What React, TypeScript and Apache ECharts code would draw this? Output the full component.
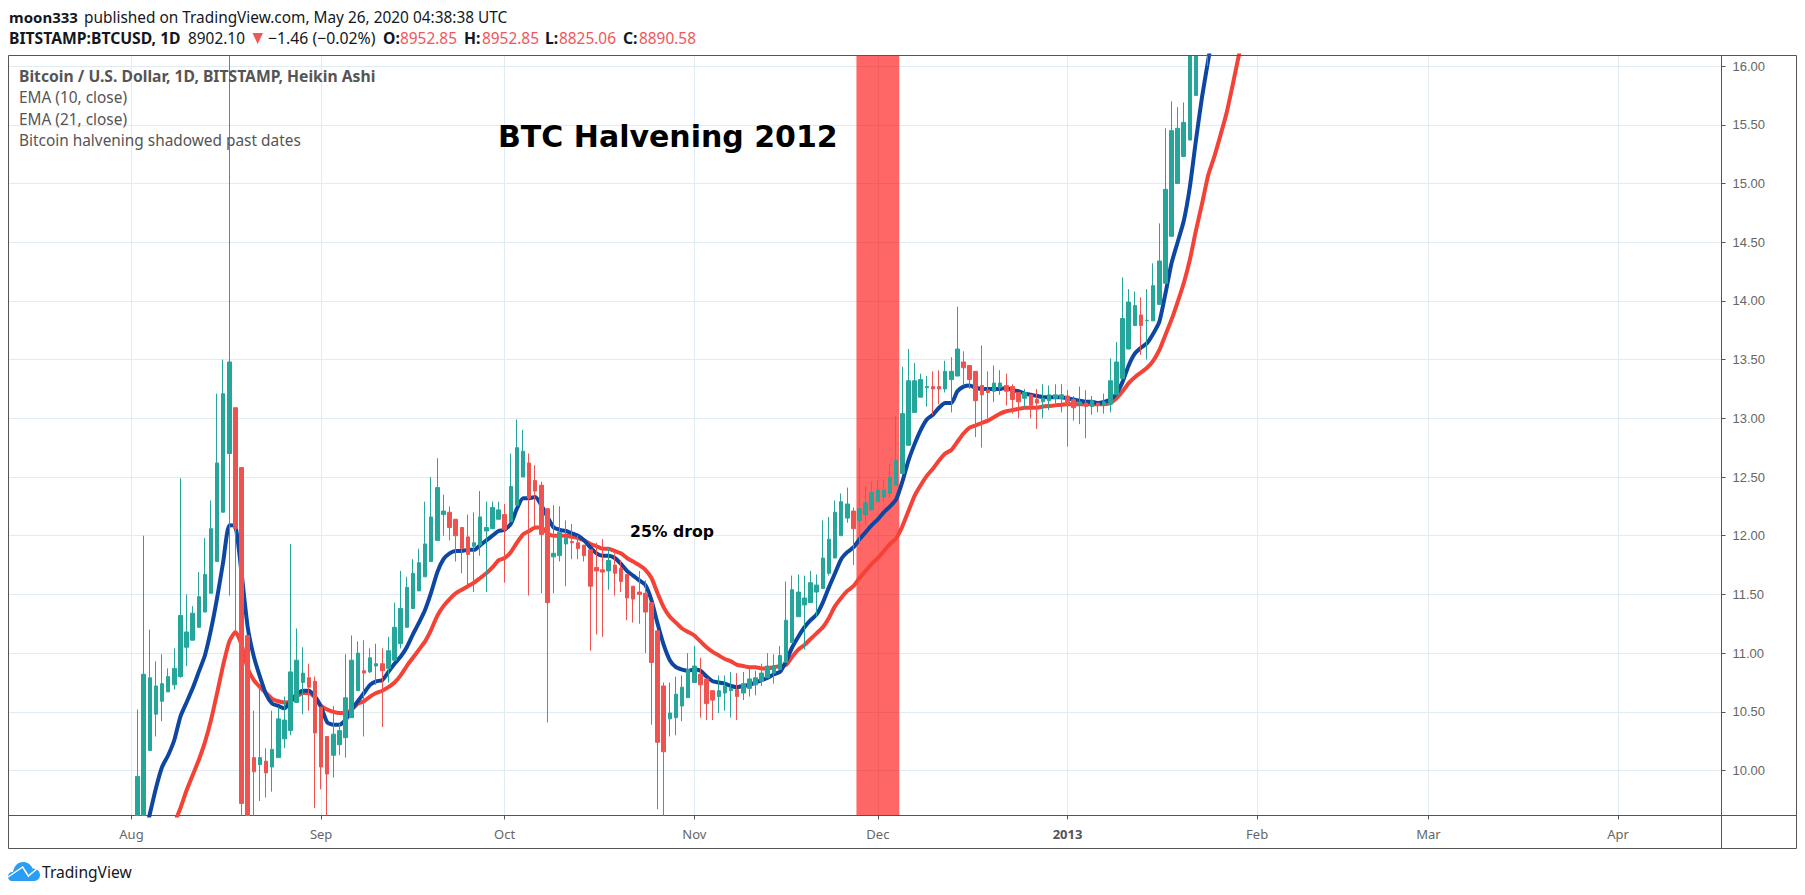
import React, { useEffect, useRef } from "react";
import * as echarts from "echarts";

// Days are counted from 1 Aug 2012 (day 0).
const monthTicks = [0, 31, 61, 92, 122, 153, 184, 212, 243];
const monthLabels = ["Aug", "Sep", "Oct", "Nov", "Dec", "2013", "Feb", "Mar", "Apr"];
const priceTicks = [10, 10.5, 11, 11.5, 12, 12.5, 13, 13.5, 14, 14.5, 15, 15.5, 16];
const priceMin = 9.617;
const priceMax = 16.09;

const firstCandleDay = 1;
// Heikin Ashi candles: [open, close, low, high]
const candlesAug = [
  [9.4, 9.95, 9.2, 10.52], [9.5, 10.82, 9.4, 12.0], [10.17, 10.79, 10.17, 11.2], [10.48, 10.72, 10.29, 10.93],
  [10.59, 10.74, 10.42, 10.99], [10.67, 10.8, 10.67, 10.87], [10.73, 10.87, 10.69, 11.04], [10.8, 11.32, 10.79, 12.49],
  [11.05, 11.18, 10.89, 11.5], [11.11, 11.34, 11.11, 11.4], [11.22, 11.48, 11.22, 11.69], [11.35, 11.67, 11.35, 11.98],
  [11.51, 12.06, 11.51, 12.3], [11.78, 12.62, 11.78, 13.21], [12.2, 13.21, 12.2, 13.5], [12.7, 13.48, 11.49, 16.6],
  [13.09, 12.06, 11.18, 13.09], [12.58, 9.72, 9.3, 12.58], [11.15, 9.4, 9.3, 11.15], [10.11, 9.99, 9.5, 10.51],
  [10.05, 10.11, 9.74, 10.71], [10.08, 9.98, 9.77, 10.19], [10.03, 10.18, 9.82, 10.51], [10.11, 10.44, 10.11, 10.54],
  [10.27, 10.43, 10.19, 10.63], [10.34, 10.84, 10.3, 11.93], [10.58, 10.94, 10.58, 11.21], [10.75, 10.83, 10.48, 11.05],
  [10.79, 10.71, 10.51, 10.91], [10.76, 10.32, 9.68, 10.8],
];
const candlesSep = [
  [10.54, 10.03, 9.84, 10.54], [10.29, 9.97, 9.55, 10.29], [10.13, 10.31, 9.94, 10.55], [10.22, 10.34, 10.13, 10.4],
  [10.28, 10.62, 10.11, 10.99], [10.45, 10.94, 10.45, 11.15], [10.68, 11.0, 10.68, 11.1], [10.85, 10.83, 10.29, 11.11],
  [10.84, 10.96, 10.83, 11.04], [10.89, 10.91, 10.73, 11.08], [10.91, 10.85, 10.37, 11.04], [10.87, 11.02, 10.75, 11.14],
  [10.94, 11.22, 10.94, 11.43], [11.08, 11.38, 11.04, 11.7], [11.22, 11.56, 11.22, 11.65], [11.38, 11.68, 11.38, 11.8],
  [11.53, 11.77, 11.53, 11.89], [11.65, 11.93, 11.65, 12.29], [11.78, 12.16, 11.78, 12.5], [11.96, 12.41, 11.96, 12.66],
  [12.18, 12.21, 12.0, 12.35], [12.2, 12.07, 11.96, 12.25], [12.14, 12.0, 11.78, 12.14], [12.07, 11.89, 11.68, 12.07],
  [11.99, 11.84, 11.58, 12.18], [11.91, 11.94, 11.52, 12.2], [11.92, 12.16, 11.83, 12.38], [12.04, 12.07, 11.52, 12.29],
  [12.06, 12.24, 12.06, 12.29], [12.14, 12.22, 12.14, 12.29],
];
const candlesOct = [
  [12.18, 12.05, 11.6, 12.27], [12.12, 12.42, 12.12, 12.7], [12.26, 12.75, 12.26, 12.99], [12.5, 12.72, 12.5, 12.9],
  [12.62, 12.32, 11.49, 12.7], [12.47, 12.38, 12.08, 12.6], [12.43, 12.01, 11.51, 12.46], [12.23, 11.43, 10.41, 12.23],
  [11.82, 11.85, 11.51, 12.26], [11.83, 12.03, 11.78, 12.25], [11.93, 11.98, 11.57, 12.13], [11.95, 11.94, 11.8, 12.1],
  [11.94, 11.89, 11.8, 12.0], [11.92, 11.83, 11.78, 11.92], [11.88, 11.57, 11.02, 11.88], [11.73, 11.7, 11.16, 11.94],
  [11.71, 11.69, 11.14, 11.97], [11.7, 11.79, 11.54, 11.9], [11.75, 11.68, 11.49, 11.85], [11.72, 11.61, 11.52, 11.79],
  [11.67, 11.47, 11.28, 11.67], [11.57, 11.46, 11.26, 11.57], [11.52, 11.5, 11.25, 11.7], [11.51, 11.35, 11.0, 11.62],
  [11.43, 10.92, 10.39, 11.43], [11.19, 10.24, 9.67, 11.19], [10.72, 10.16, 9.55, 10.75], [10.44, 10.49, 10.29, 10.75],
  [10.45, 10.65, 10.3, 10.8], [10.55, 10.71, 10.42, 10.81], [10.62, 10.86, 10.62, 11.0],
];
const candlesNov = [
  [10.75, 10.89, 10.75, 11.06], [10.82, 10.73, 10.45, 10.96], [10.78, 10.57, 10.43, 10.78], [10.68, 10.6, 10.43, 10.68],
  [10.63, 10.68, 10.49, 10.81], [10.66, 10.72, 10.51, 10.81], [10.68, 10.7, 10.45, 10.84], [10.69, 10.63, 10.43, 10.83],
  [10.66, 10.74, 10.6, 10.84], [10.7, 10.78, 10.63, 10.87], [10.73, 10.79, 10.64, 10.85], [10.76, 10.83, 10.72, 10.91],
  [10.79, 10.89, 10.79, 11.0], [10.83, 10.89, 10.74, 10.99], [10.86, 10.98, 10.86, 11.06], [10.92, 11.28, 10.92, 11.61],
  [11.09, 11.54, 11.09, 11.66], [11.31, 11.52, 11.31, 11.67], [11.41, 11.47, 11.03, 11.66], [11.43, 11.6, 11.43, 11.7],
  [11.52, 11.58, 11.31, 11.67], [11.55, 11.81, 11.55, 12.13], [11.68, 11.97, 11.66, 12.16], [11.81, 12.2, 11.81, 12.3],
  [12.0, 12.29, 12.0, 12.36], [12.15, 12.27, 12.11, 12.41], [12.21, 12.06, 11.75, 12.24], [12.13, 12.23, 11.93, 12.75],
  [12.18, 12.28, 12.1, 12.42], [12.22, 12.37, 12.22, 12.46],
];
const candlesDec = [
  [12.29, 12.39, 12.29, 12.47], [12.33, 12.39, 12.29, 12.48], [12.36, 12.5, 12.32, 12.61], [12.43, 12.64, 12.43, 13.02],
  [12.53, 13.04, 12.53, 13.44], [12.77, 13.32, 12.77, 13.59], [13.05, 13.32, 13.05, 13.47], [13.18, 13.33, 13.18, 13.38],
  [13.26, 13.27, 13.1, 13.36], [13.27, 13.25, 13.03, 13.4], [13.27, 13.25, 13.12, 13.41], [13.25, 13.4, 13.22, 13.49],
  [13.33, 13.4, 13.05, 13.52], [13.36, 13.59, 13.36, 13.95], [13.48, 13.43, 13.28, 13.57], [13.45, 13.33, 13.25, 13.45],
  [13.4, 13.15, 12.84, 13.4], [13.28, 13.2, 12.75, 13.62], [13.24, 13.22, 13.0, 13.4], [13.23, 13.3, 13.14, 13.45],
  [13.26, 13.3, 13.2, 13.41], [13.28, 13.23, 13.11, 13.38], [13.27, 13.16, 13.04, 13.29], [13.22, 13.14, 13.0, 13.22],
  [13.17, 13.22, 13.09, 13.25], [13.2, 13.11, 13.0, 13.2], [13.16, 13.13, 12.91, 13.25], [13.14, 13.17, 13.0, 13.29],
  [13.15, 13.2, 13.07, 13.28], [13.17, 13.2, 13.1, 13.29], [13.17, 13.2, 13.05, 13.29],
];
const candlesJan = [
  [13.19, 13.12, 12.76, 13.24], [13.16, 13.09, 12.98, 13.19], [13.12, 13.14, 12.95, 13.27], [13.13, 13.1, 12.83, 13.24],
  [13.1, 13.15, 13.03, 13.19], [13.13, 13.11, 13.05, 13.13], [13.11, 13.14, 13.04, 13.21], [13.12, 13.32, 13.05, 13.51],
  [13.2, 13.48, 13.2, 13.65], [13.34, 13.85, 13.34, 14.2], [13.59, 13.99, 13.59, 14.1], [13.79, 13.96, 13.79, 14.08],
  [13.88, 13.79, 13.54, 14.03], [13.83, 13.835, 13.5, 14.1], [13.83, 14.13, 13.83, 14.32], [13.97, 14.34, 13.97, 14.66],
  [14.15, 14.95, 14.15, 15.47], [14.55, 15.45, 14.55, 15.7], [15.0, 15.47, 15.0, 15.65], [15.23, 15.52, 15.23, 15.69],
  [15.37, 16.5, 15.37, 16.8], [15.75, 16.6, 15.75, 17.0], [16.5, 17.0, 16.2, 17.2], [16.8, 17.2, 16.0, 17.4],
];

const ema10FirstDay = 2;
const ema10Values = [
  9.4, 9.63, 9.85, 10.03, 10.13, 10.26, 10.46, 10.58, 10.7, 10.84, 10.98, 11.2, 11.47, 11.78, 12.09, 12.08, 11.68, 11.22,
  10.97, 10.8, 10.65, 10.57, 10.55, 10.53, 10.59, 10.65, 10.68, 10.68, 10.63,
  10.54, 10.41, 10.39, 10.39, 10.43, 10.52, 10.59, 10.66, 10.73, 10.76, 10.77, 10.84, 10.91, 10.97, 11.05, 11.16, 11.26,
  11.37, 11.52, 11.69, 11.8, 11.85, 11.87, 11.87, 11.88, 11.88, 11.92, 11.96, 12.0, 12.04,
  12.05, 12.1, 12.23, 12.32, 12.32, 12.33, 12.26, 12.16, 12.07, 12.05, 12.04, 12.02, 12.0, 11.96, 11.9, 11.85, 11.83,
  11.83, 11.81, 11.76, 11.7, 11.66, 11.62, 11.58, 11.45, 11.25, 11.07, 10.94, 10.88, 10.86, 10.85,
  10.86, 10.85, 10.8, 10.76, 10.75, 10.74, 10.72, 10.71, 10.72, 10.73, 10.75, 10.77, 10.79, 10.82, 10.84, 10.93, 11.05,
  11.14, 11.22, 11.28, 11.33, 11.43, 11.56, 11.68, 11.8, 11.86, 11.9, 11.97, 12.03, 12.09,
  12.14, 12.2, 12.25, 12.31, 12.46, 12.64, 12.78, 12.9, 12.99, 13.03, 13.09, 13.13, 13.13, 13.23, 13.27, 13.28, 13.26,
  13.25, 13.25, 13.25, 13.25, 13.26, 13.24, 13.23, 13.21, 13.2, 13.19, 13.18, 13.18, 13.18, 13.18,
  13.17, 13.16, 13.15, 13.14, 13.14, 13.13, 13.14, 13.16, 13.21, 13.31, 13.45, 13.55, 13.6, 13.64, 13.72, 13.82, 14.06,
  14.32, 14.5, 14.68, 14.97, 15.37, 15.74, 16.05, 16.35,
];
const ema21FirstDay = 7;
const ema21Values = [
  9.55, 9.68, 9.83, 9.96, 10.09, 10.24, 10.43, 10.66, 10.9, 11.1, 11.18, 11.07, 10.87, 10.77, 10.71, 10.66, 10.61, 10.59,
  10.58, 10.59, 10.63, 10.66, 10.66, 10.62,
  10.55, 10.52, 10.5, 10.49, 10.49, 10.52, 10.57, 10.59, 10.63, 10.66, 10.68, 10.71, 10.75, 10.81, 10.89, 10.96, 11.03,
  11.1, 11.2, 11.32, 11.4, 11.46, 11.51, 11.54, 11.57, 11.6, 11.64, 11.68, 11.73, 11.79,
  11.81, 11.86, 11.94, 12.01, 12.04, 12.07, 12.07, 12.02, 12.0, 12.0, 12.0, 11.99, 11.98, 11.96, 11.93, 11.91, 11.89,
  11.89, 11.87, 11.85, 11.81, 11.78, 11.75, 11.71, 11.64, 11.51, 11.39, 11.31, 11.26, 11.21, 11.18,
  11.15, 11.1, 11.05, 11.01, 10.98, 10.95, 10.93, 10.9, 10.89, 10.88, 10.88, 10.87, 10.87, 10.88, 10.89, 10.9, 10.97,
  11.03, 11.07, 11.12, 11.17, 11.22, 11.3, 11.4, 11.47, 11.53, 11.57, 11.64, 11.7, 11.76,
  11.81, 11.87, 11.93, 11.98, 12.08, 12.21, 12.34, 12.43, 12.51, 12.57, 12.64, 12.7, 12.73, 12.8, 12.87, 12.92, 12.94,
  12.96, 12.98, 13.01, 13.04, 13.06, 13.07, 13.08, 13.09, 13.09, 13.09, 13.1, 13.105, 13.11, 13.116,
  13.12, 13.12, 13.12, 13.12, 13.12, 13.12, 13.12, 13.13, 13.17, 13.23, 13.3, 13.35, 13.39, 13.43, 13.49, 13.58, 13.71,
  13.84, 13.99, 14.15, 14.35, 14.6, 14.83, 15.07, 15.23, 15.41, 15.6, 15.84, 16.09, 16.35,
];

const halvingBand = [118.5, 125.5];

const legendLines = [
  "EMA (10, close)",
  "EMA (21, close)",
  "Bitcoin halvening shadowed past dates",
];

const CLOUD =
  "M4 19C1.5 19 0 17 0 14.5C0 11.5 2.5 9.5 5 10C6 4 10 0 15 0C19.5 0 23 2.5 24.5 6.5C28.5 6 32 9 32 13C32 16.5 29.5 19 26 19Z";
echarts.graphic.registerShape("tvCloud", echarts.graphic.extendPath(CLOUD as any, {}) as any);

const UI_FONT = '"Noto Sans", sans-serif';
const AXIS_COLOR = "#555555";
const GRID_COLOR = "#e1ecf2";
const REG = 15.4;
const BOLD = 15.7;

function txt(x: number, y: number, text: string, size: number, fill: string, weight: string = "normal", family = UI_FONT) {
  return {
    type: "text",
    x,
    y,
    silent: true,
    z: 20,
    style: { text, fill, fontSize: size, fontWeight: weight, fontFamily: family, verticalAlign: "middle" },
  };
}

const clampPrice = (v: number) => Math.min(priceMax, Math.max(priceMin, v));

export default function App() {
  const ref = useRef<HTMLDivElement>(null);
  useEffect(() => {
    document.body.style.margin = "0";
    const chart = echarts.init(ref.current!, undefined, { renderer: "svg" });
    const rows = [...candlesAug, ...candlesSep, ...candlesOct, ...candlesNov, ...candlesDec, ...candlesJan];
    // The candlestick series does not clip at the plot edge, so parts beyond the frame are held at the axis limits.
    const candleData = rows.map((r, i) => [firstCandleDay + i, ...r.map(clampPrice)]);
    const ema10 = ema10Values.map((v, i) => [ema10FirstDay + i, v]);
    const ema21 = ema21Values.map((v, i) => [ema21FirstDay + i, v]);
    const RED = "#f0565a";
    chart.setOption({
      animation: false,
      backgroundColor: "#ffffff",
      grid: { left: 8.5, top: 55.5, width: 1713, height: 760, containLabel: false },
      xAxis: {
        type: "value",
        min: -20.1,
        max: 259.9,
        axisLine: { show: true, lineStyle: { color: AXIS_COLOR, width: 1 } },
        axisTick: { show: true, length: 4, customValues: monthTicks, lineStyle: { color: AXIS_COLOR } },
        axisLabel: {
          customValues: monthTicks,
          margin: 12,
          color: "#666666",
          fontSize: 13,
          fontFamily: UI_FONT,
          formatter: (v: number) => {
            const s = monthLabels[monthTicks.indexOf(v)];
            return s === "2013" ? "{b|2013}" : s;
          },
          rich: { b: { fontWeight: "bold", fontSize: 13, color: "#555555", fontFamily: UI_FONT } },
        },
        splitLine: { show: true, lineStyle: { color: GRID_COLOR, width: 1 } },
      },
      yAxis: {
        type: "value",
        position: "right",
        min: priceMin,
        max: priceMax,
        scale: true,
        axisLine: { show: true, onZero: false, lineStyle: { color: AXIS_COLOR, width: 1 } },
        axisTick: { show: true, length: 4, customValues: priceTicks, lineStyle: { color: AXIS_COLOR } },
        axisLabel: {
          customValues: priceTicks,
          margin: 11,
          color: "#666666",
          fontSize: 13,
          fontFamily: '"Liberation Sans", Arial, sans-serif',
          formatter: (v: number) => v.toFixed(2),
        },
        splitLine: { show: true, lineStyle: { color: GRID_COLOR, width: 1 } },
      },
      series: [
        {
          name: "EMA (21, close)",
          type: "line",
          data: ema21,
          z: 3,
          symbol: "none",
          smooth: 0.2,
          lineStyle: { color: "#f44336", width: 4, join: "round" },
          itemStyle: { color: "#f44336" },
          markArea: {
            silent: true,
            z: 1,
            itemStyle: { color: "rgba(255,0,0,0.6)", borderWidth: 0 },
            data: [[{ xAxis: halvingBand[0] }, { xAxis: halvingBand[1] }]],
          },
        },
        {
          name: "EMA (10, close)",
          type: "line",
          data: ema10,
          z: 3,
          symbol: "none",
          smooth: 0.2,
          lineStyle: { color: "#0d47a1", width: 4, join: "round" },
          itemStyle: { color: "#0d47a1" },
        },
        {
          name: "BITSTAMP:BTCUSD",
          type: "candlestick",
          data: candleData,
          z: 4,
          barWidth: 4,
          itemStyle: {
            color: "#26a69a",
            color0: "#ef5350",
            borderColor: "#26a69a",
            borderColor0: "#ef5350",
            borderWidth: 1,
          },
        },
      ],
      graphic: [
        { type: "rect", silent: true, z: 15, shape: { x: 8.5, y: 55.5, width: 1788, height: 793 }, style: { fill: "none", stroke: AXIS_COLOR, lineWidth: 1 } },
        { type: "line", silent: true, z: 15, shape: { x1: 1721.5, y1: 815.5, x2: 1796.5, y2: 815.5 }, style: { stroke: AXIS_COLOR, lineWidth: 1 } },
        { type: "line", silent: true, z: 15, shape: { x1: 1721.5, y1: 815.5, x2: 1721.5, y2: 848.5 }, style: { stroke: AXIS_COLOR, lineWidth: 1 } },
        txt(9, 17, "moon333", 15, "#131722", "bold"),
        txt(84, 17, "published on TradingView.com, May 26, 2020 04:38:38 UTC", REG, "#131722"),
        txt(9, 38, "BITSTAMP:BTCUSD, 1D", BOLD, "#131722", "bold"),
        txt(188, 38, "8902.10", REG, "#131722"),
        { type: "polygon", silent: true, z: 20, shape: { points: [[252.5, 33], [263, 33], [257.7, 44]] }, style: { fill: RED } },
        txt(268, 38, "\u22121.46 (\u22120.02%)", 15.8, "#131722"),
        txt(383, 38, "O:", BOLD, "#131722", "bold"),
        txt(400, 38, "8952.85", REG, RED),
        txt(464, 38, "H:", BOLD, "#131722", "bold"),
        txt(482, 38, "8952.85", REG, RED),
        txt(545, 38, "L:", BOLD, "#131722", "bold"),
        txt(559, 38, "8825.06", REG, RED),
        txt(623, 38, "C:", BOLD, "#131722", "bold"),
        txt(639, 38, "8890.58", REG, RED),
        txt(19, 76, "Bitcoin / U.S. Dollar, 1D, BITSTAMP, Heikin Ashi", BOLD, "#555555", "bold"),
        txt(19, 97, legendLines[0], REG, "#555555"),
        txt(19, 119, legendLines[1], REG, "#555555"),
        txt(19, 140, legendLines[2], REG, "#555555"),
        txt(498, 136, "BTC Halvening 2012", 30, "#000000", "bold", '"DejaVu Sans", sans-serif'),
        txt(630, 531, "25% drop", 15.7, "#000000", "bold", '"DejaVu Sans", sans-serif'),
        { type: "tvCloud", silent: true, z: 20, x: 8, y: 862, scaleX: 1, scaleY: 1, style: { fill: "#2a9df4" } },
        { type: "polyline", silent: true, z: 21, shape: { points: [[8, 877], [22.7, 867], [28.3, 876], [36.7, 869]] }, style: { stroke: "#ffffff", lineWidth: 1.5, fill: "none" } },
        txt(42, 872, "TradingView", 15.6, "#131722"),
      ],
    } as any);
    return () => chart.dispose();
  }, []);
  return <div ref={ref} style={{ position: "absolute", left: 0, top: 0, width: 1805, height: 895 }} />;
}
